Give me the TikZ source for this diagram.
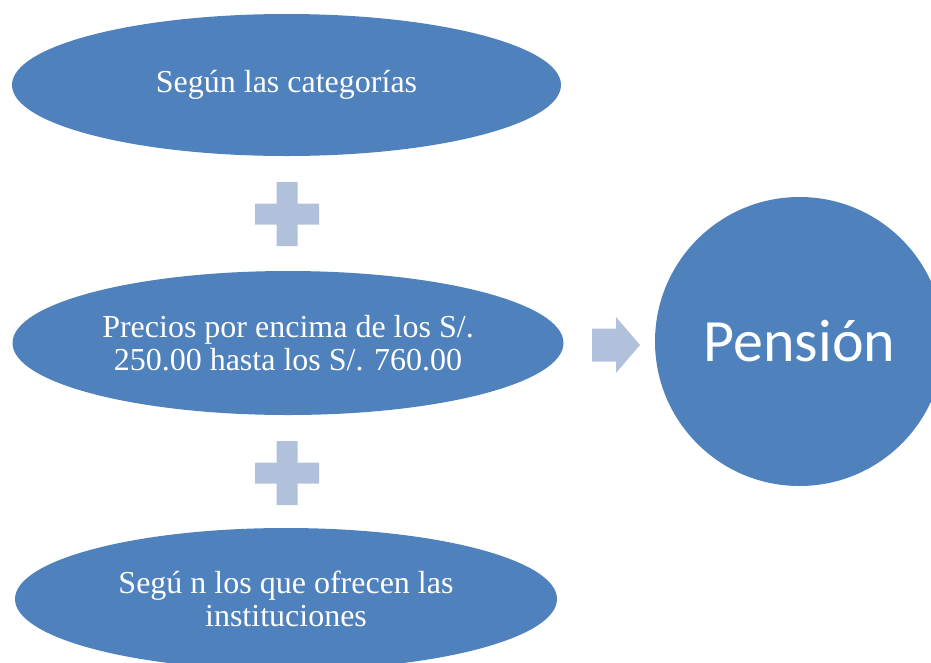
\documentclass[tikz,border=0pt]{standalone}
\usepackage{fontspec}
\setmainfont{Liberation Serif}
\newfontfamily\calib{Carlito}
\usetikzlibrary{shapes.geometric}
\definecolor{blueA}{HTML}{4F81BD}
\definecolor{blueL}{HTML}{B2C1DB}
\tikzset{
  oval/.style={ellipse, fill=blueA, draw=none, inner sep=0pt, minimum width=549pt, minimum height=142pt,
    text=white, align=center, font=\fontsize{32}{32.5}\selectfont},
  bigcirc/.style={circle, fill=blueA, draw=none, inner sep=0pt, minimum size=289pt,
    text=white, font=\calib\fontsize{60}{66}\selectfont},
  light/.style={fill=blueL, draw=none}
}
\begin{document}
\begin{tikzpicture}[x=1pt,y=-1pt]
\useasboundingbox (0,0) rectangle (931,662);
\clip (0,0) rectangle (931,662);
\node[oval] (a) at (286.5,85) {Según las categorías};
\node[oval, minimum width=551pt, minimum height=144pt] (b) at (288,343) {Precios por encima de los S/.\\250.00 hasta los S/. 760.00};
\node[oval, minimum width=542pt] (c) at (286,599) {Segú n los que ofrecen las\\instituciones};
\node[bigcirc] (p) at (799.5,341.5) {Pensión};
% plus signs
\coordinate (p1) at (287,214);
\coordinate (p2) at (287,473);
\foreach \c in {p1,p2}{
  \fill[light] ([shift={(-10.5,-32)}]\c) -- ([shift={(10.5,-32)}]\c) -- ([shift={(10.5,-10.5)}]\c)
    -- ([shift={(32,-10.5)}]\c) -- ([shift={(32,10.5)}]\c) -- ([shift={(10.5,10.5)}]\c)
    -- ([shift={(10.5,32)}]\c) -- ([shift={(-10.5,32)}]\c) -- ([shift={(-10.5,10.5)}]\c)
    -- ([shift={(-32,10.5)}]\c) -- ([shift={(-32,-10.5)}]\c) -- ([shift={(-10.5,-10.5)}]\c) -- cycle;
}
% arrow
\coordinate (ar) at (616,345);
\fill[light] ([shift={(-24,-16.5)}]ar) -- ([shift={(0,-16.5)}]ar) -- ([shift={(0,-28)}]ar)
  -- ([shift={(24,0)}]ar) -- ([shift={(0,28)}]ar) -- ([shift={(0,16.5)}]ar)
  -- ([shift={(-24,16.5)}]ar) -- cycle;
\end{tikzpicture}
\end{document}
